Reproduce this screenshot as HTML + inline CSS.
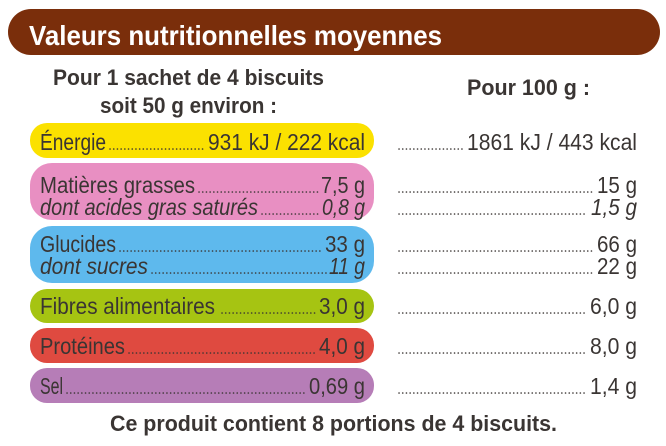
<!DOCTYPE html>
<html><head><meta charset="utf-8"><style>
html,body{margin:0;padding:0;background:#fff;width:666px;height:446px;overflow:hidden}
svg{display:block}
text{font-family:"Liberation Sans",sans-serif;fill:#3a3533}
.b{font-weight:bold}
.i{font-style:italic}
.dots{stroke:#3a3533;stroke-width:1.6;stroke-dasharray:0.1 3.6;stroke-linecap:round}
</style></head><body>
<svg width="666" height="446" viewBox="0 0 666 446">
<rect x="8" y="9" width="652" height="46" rx="23" fill="#7a2e0b"/>
<text x="29" y="45" font-size="28" class="b" style="fill:#fff" textLength="413" lengthAdjust="spacingAndGlyphs">Valeurs nutritionnelles moyennes</text>
<text x="53" y="85" font-size="22" class="b" textLength="271" lengthAdjust="spacingAndGlyphs">Pour 1 sachet de 4 biscuits</text>
<text x="100" y="113" font-size="22" class="b" textLength="177" lengthAdjust="spacingAndGlyphs">soit 50 g environ :</text>
<text x="467" y="95" font-size="22" class="b" textLength="123" lengthAdjust="spacingAndGlyphs">Pour 100 g :</text>

<rect x="30" y="123" width="344" height="35" rx="17" fill="#fbe100"/>
<rect x="30" y="163" width="344" height="57" rx="22" fill="#e88fc2"/>
<rect x="30" y="226" width="344" height="57" rx="22" fill="#5eb9ed"/>
<rect x="30" y="289" width="344" height="34" rx="17" fill="#a6c412"/>
<rect x="30" y="328" width="344" height="35" rx="17" fill="#df4a40"/>
<rect x="30" y="368" width="344" height="35" rx="17" fill="#b67db7"/>

<g font-size="23">
<!-- Energie -->
<text x="40" y="150" textLength="66" lengthAdjust="spacingAndGlyphs">Énergie</text>
<line class="dots" x1="110" y1="149" x2="204" y2="149"/>
<text x="365" y="150" text-anchor="end" textLength="157" lengthAdjust="spacingAndGlyphs">931 kJ / 222 kcal</text>
<line class="dots" x1="399" y1="149" x2="464" y2="149"/>
<text x="637" y="150" text-anchor="end" textLength="170" lengthAdjust="spacingAndGlyphs">1861 kJ / 443 kcal</text>

<text x="40" y="193" textLength="155" lengthAdjust="spacingAndGlyphs">Matières grasses</text>
<line class="dots" x1="199" y1="192" x2="318" y2="192"/>
<text x="365" y="193" text-anchor="end" textLength="44" lengthAdjust="spacingAndGlyphs">7,5 g</text>
<line class="dots" x1="399" y1="192" x2="592" y2="192"/>
<text x="637" y="193" text-anchor="end" textLength="40" lengthAdjust="spacingAndGlyphs">15 g</text>

<text x="40" y="215" class="i" textLength="218" lengthAdjust="spacingAndGlyphs">dont acides gras saturés</text>
<line class="dots" x1="262" y1="214" x2="320" y2="214"/>
<text x="365" y="215" class="i" text-anchor="end" textLength="43" lengthAdjust="spacingAndGlyphs">0,8 g</text>
<line class="dots" x1="399" y1="214" x2="586" y2="214"/>
<text x="637" y="215" class="i" text-anchor="end" textLength="46" lengthAdjust="spacingAndGlyphs">1,5 g</text>

<text x="40" y="252" textLength="76" lengthAdjust="spacingAndGlyphs">Glucides</text>
<line class="dots" x1="120" y1="251" x2="322" y2="251"/>
<text x="365" y="252" text-anchor="end" textLength="40" lengthAdjust="spacingAndGlyphs">33 g</text>
<line class="dots" x1="399" y1="251" x2="592" y2="251"/>
<text x="637" y="252" text-anchor="end" textLength="40" lengthAdjust="spacingAndGlyphs">66 g</text>

<text x="40" y="274" class="i" textLength="108" lengthAdjust="spacingAndGlyphs">dont sucres</text>
<line class="dots" x1="152" y1="273" x2="327" y2="273"/>
<text x="365" y="274" class="i" text-anchor="end" textLength="36" lengthAdjust="spacingAndGlyphs">11 g</text>
<line class="dots" x1="399" y1="273" x2="592" y2="273"/>
<text x="637" y="274" text-anchor="end" textLength="40" lengthAdjust="spacingAndGlyphs">22 g</text>

<text x="40" y="314" textLength="175" lengthAdjust="spacingAndGlyphs">Fibres alimentaires</text>
<line class="dots" x1="222" y1="313" x2="316" y2="313"/>
<text x="365" y="314" text-anchor="end" textLength="46" lengthAdjust="spacingAndGlyphs">3,0 g</text>
<line class="dots" x1="399" y1="313" x2="586" y2="313"/>
<text x="637" y="314" text-anchor="end" textLength="47" lengthAdjust="spacingAndGlyphs">6,0 g</text>

<text x="40" y="354" textLength="85" lengthAdjust="spacingAndGlyphs">Protéines</text>
<line class="dots" x1="129" y1="353" x2="316" y2="353"/>
<text x="365" y="354" text-anchor="end" textLength="46" lengthAdjust="spacingAndGlyphs">4,0 g</text>
<line class="dots" x1="399" y1="353" x2="586" y2="353"/>
<text x="637" y="354" text-anchor="end" textLength="47" lengthAdjust="spacingAndGlyphs">8,0 g</text>

<text x="40" y="394" textLength="23" lengthAdjust="spacingAndGlyphs">Sel</text>
<line class="dots" x1="67" y1="393" x2="306" y2="393"/>
<text x="365" y="394" text-anchor="end" textLength="56" lengthAdjust="spacingAndGlyphs">0,69 g</text>
<line class="dots" x1="399" y1="393" x2="586" y2="393"/>
<text x="637" y="394" text-anchor="end" textLength="47" lengthAdjust="spacingAndGlyphs">1,4 g</text>
</g>

<text x="110" y="431" font-size="22" class="b" textLength="447" lengthAdjust="spacingAndGlyphs">Ce produit contient 8 portions de 4 biscuits.</text>
</svg>
</body></html>
